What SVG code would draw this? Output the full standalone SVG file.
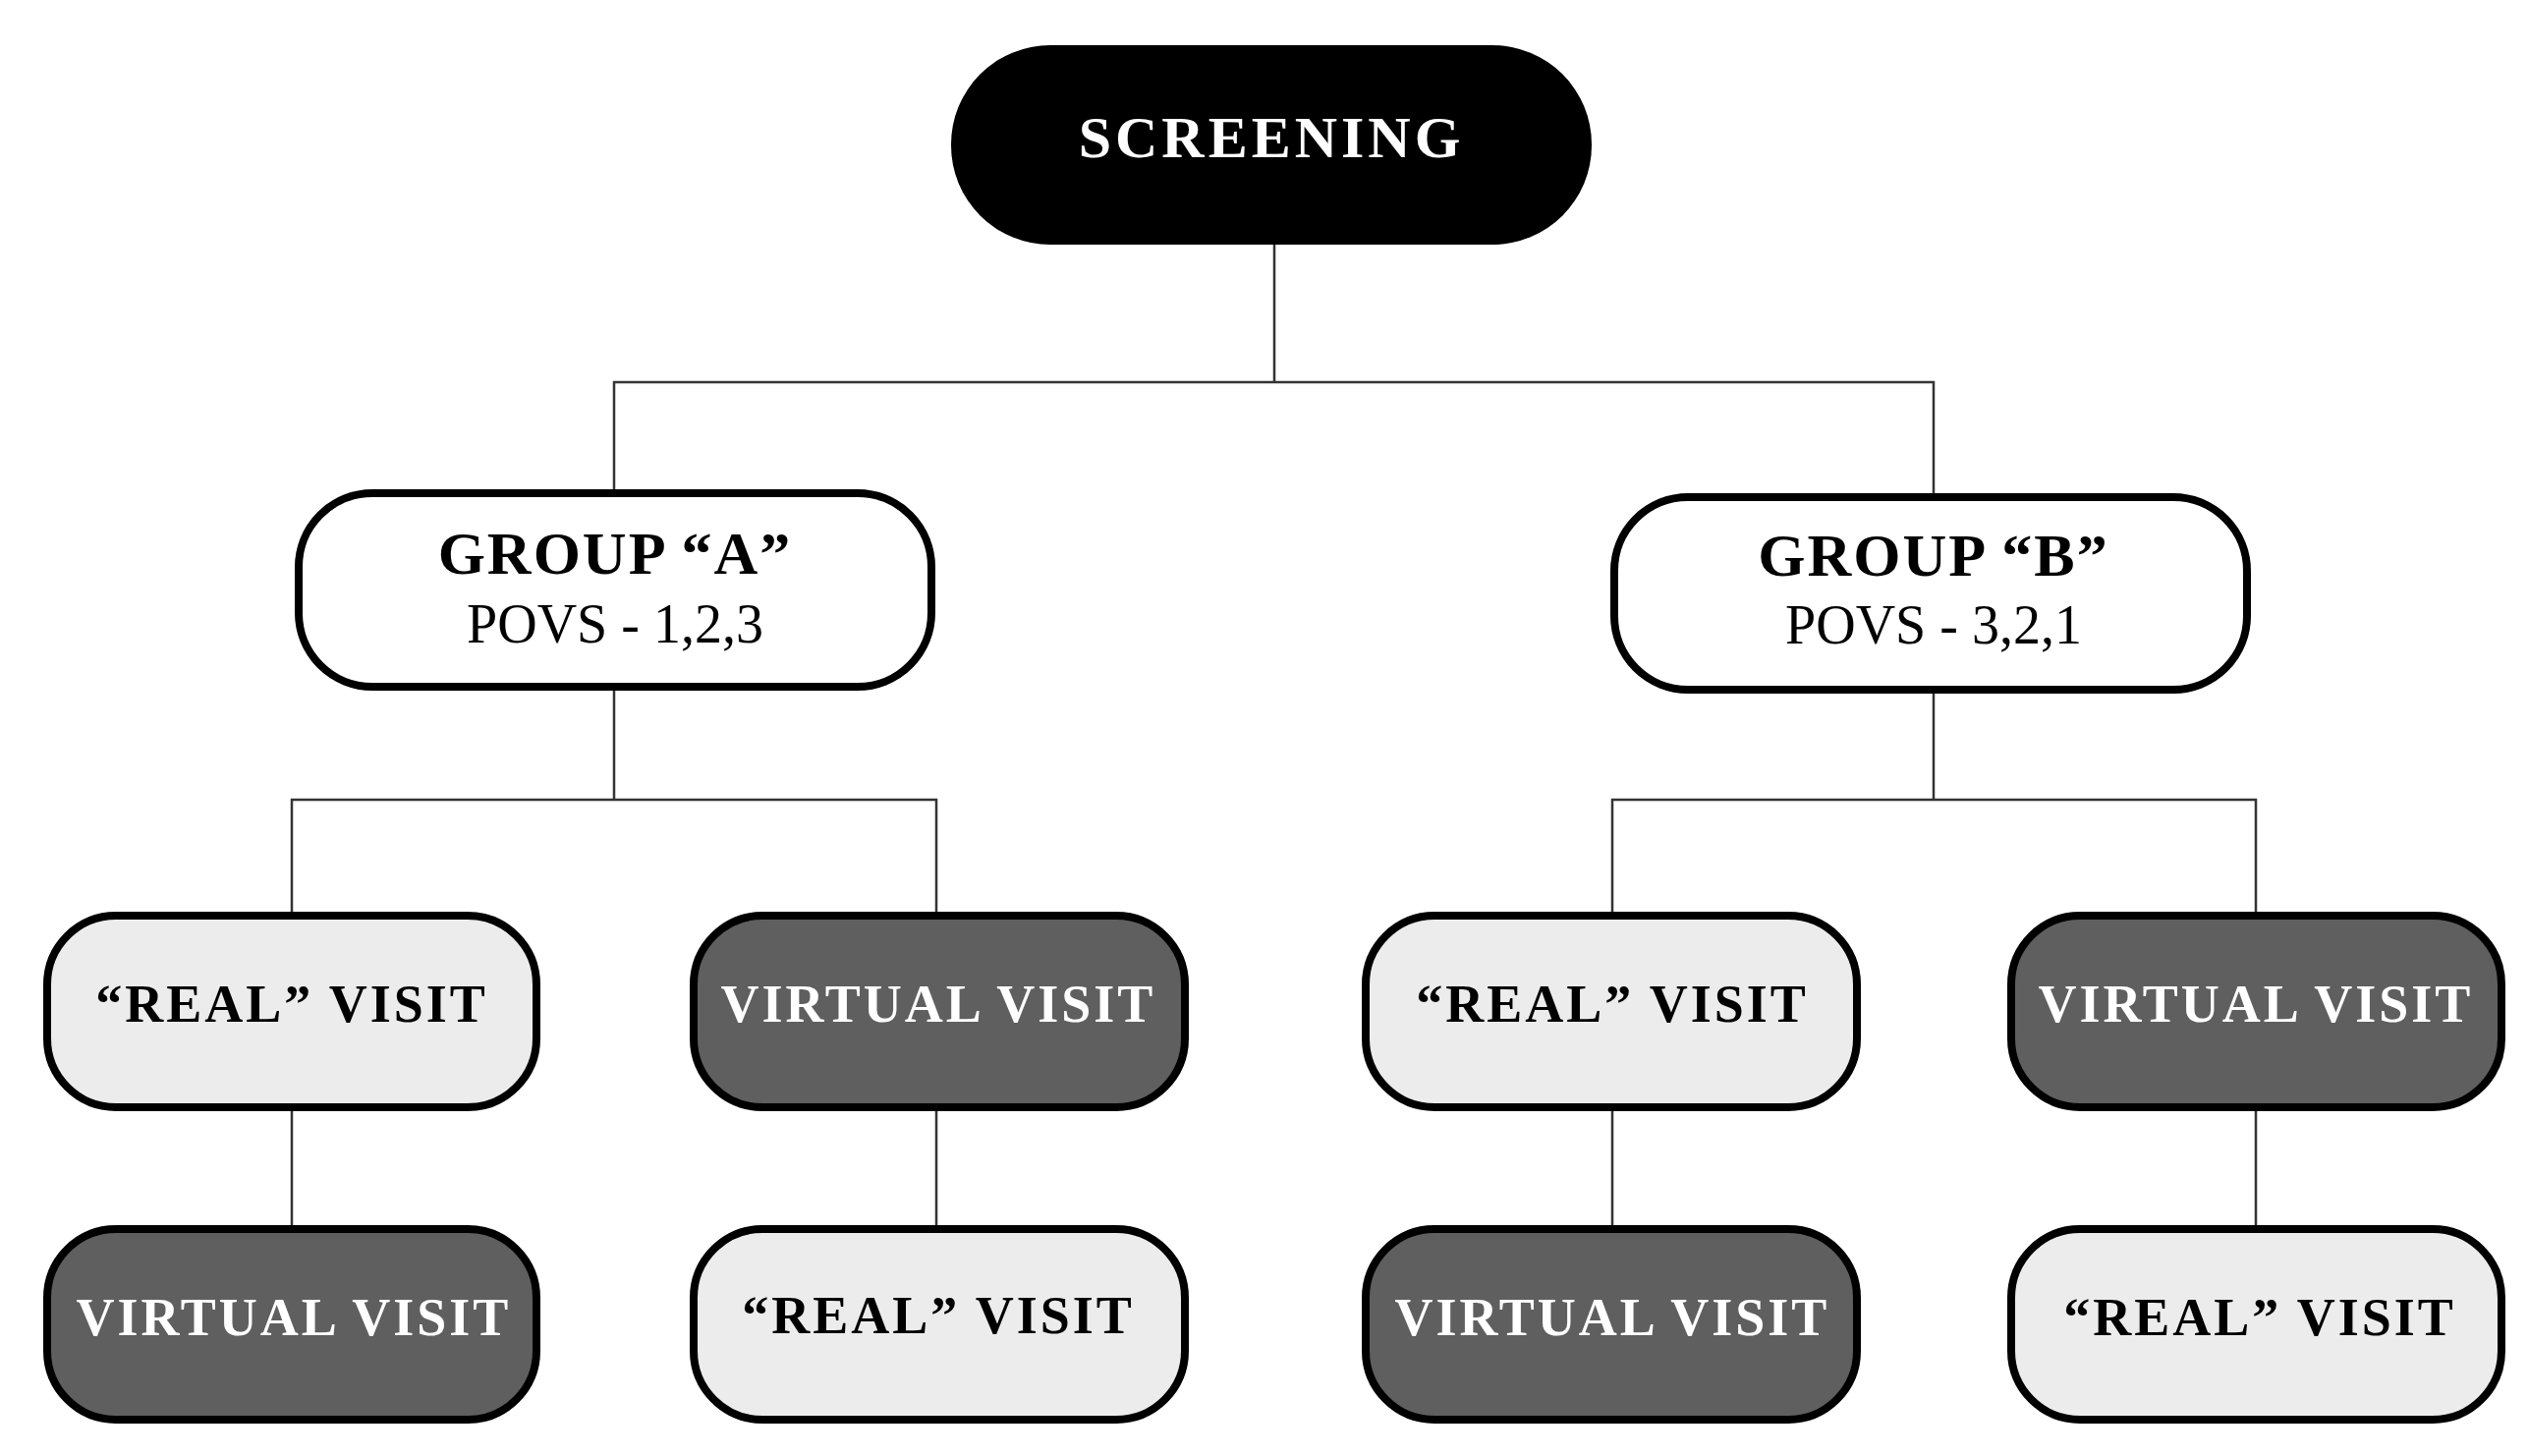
<svg xmlns="http://www.w3.org/2000/svg" width="2573" height="1482" viewBox="0 0 2573 1482">
<style>
text{font-family:"Liberation Serif","DejaVu Serif",serif;text-anchor:middle}
.b{stroke:#000;stroke-width:8}
.lt{fill:#ececec}.dk{fill:#5f5f5f}
.v{font-size:54px;font-weight:bold;letter-spacing:3px}
.line{stroke:#333;stroke-width:2.5;fill:none}
</style>
<rect width="2573" height="1482" fill="#fff"/>
<g id="connectors">
<path class="line" d="M1297 249V389M625 500V389H1968V504"/>
<path class="line" d="M625 701V814M297 930V814H953V930"/>
<path class="line" d="M1968 702V814M1641 930V814H2296V930"/>
<path class="line" d="M297 1129V1249M953 1129V1249M1641 1129V1249M2296 1129V1249"/>
</g>
<g id="screening"><rect x="968" y="46" width="652" height="203" rx="101" fill="#000"/><text x="1294" y="160" font-size="60" font-weight="bold" fill="#fff" letter-spacing="4">SCREENING</text></g>
<g id="groupA"><rect class="b" x="304" y="502" width="644" height="197" rx="75" fill="#fff"/><text x="626" y="584" font-size="62" font-weight="bold" letter-spacing="2">GROUP “A”</text><text x="626" y="654" font-size="56">POVS - 1,2,3</text></g>
<g id="groupB"><rect class="b" x="1643" y="506" width="644" height="196" rx="75" fill="#fff"/><text x="1968" y="586" font-size="62" font-weight="bold" letter-spacing="2">GROUP “B”</text><text x="1968" y="655" font-size="56">POVS - 3,2,1</text></g>
<g id="a1"><rect class="b lt" x="48" y="932" width="498" height="195" rx="70"/><text class="v" x="297" y="1040">“REAL” VISIT</text></g>
<g id="a2"><rect class="b dk" x="706" y="932" width="500" height="195" rx="70"/><text class="v" x="955" y="1040" fill="#fff">VIRTUAL VISIT</text></g>
<g id="b1"><rect class="b lt" x="1390" y="932" width="500" height="195" rx="70"/><text class="v" x="1641" y="1040">“REAL” VISIT</text></g>
<g id="b2"><rect class="b dk" x="2047" y="932" width="499" height="195" rx="70"/><text class="v" x="2296" y="1040" fill="#fff">VIRTUAL VISIT</text></g>
<g id="a3"><rect class="b dk" x="48" y="1251" width="498" height="194" rx="70"/><text class="v" x="299" y="1359" fill="#fff">VIRTUAL VISIT</text></g>
<g id="a4"><rect class="b lt" x="706" y="1251" width="500" height="194" rx="70"/><text class="v" x="955" y="1357">“REAL” VISIT</text></g>
<g id="b3"><rect class="b dk" x="1390" y="1251" width="500" height="194" rx="70"/><text class="v" x="1641" y="1359" fill="#fff">VIRTUAL VISIT</text></g>
<g id="b4"><rect class="b lt" x="2047" y="1251" width="499" height="194" rx="70"/><text class="v" x="2300" y="1359">“REAL” VISIT</text></g>
</svg>
